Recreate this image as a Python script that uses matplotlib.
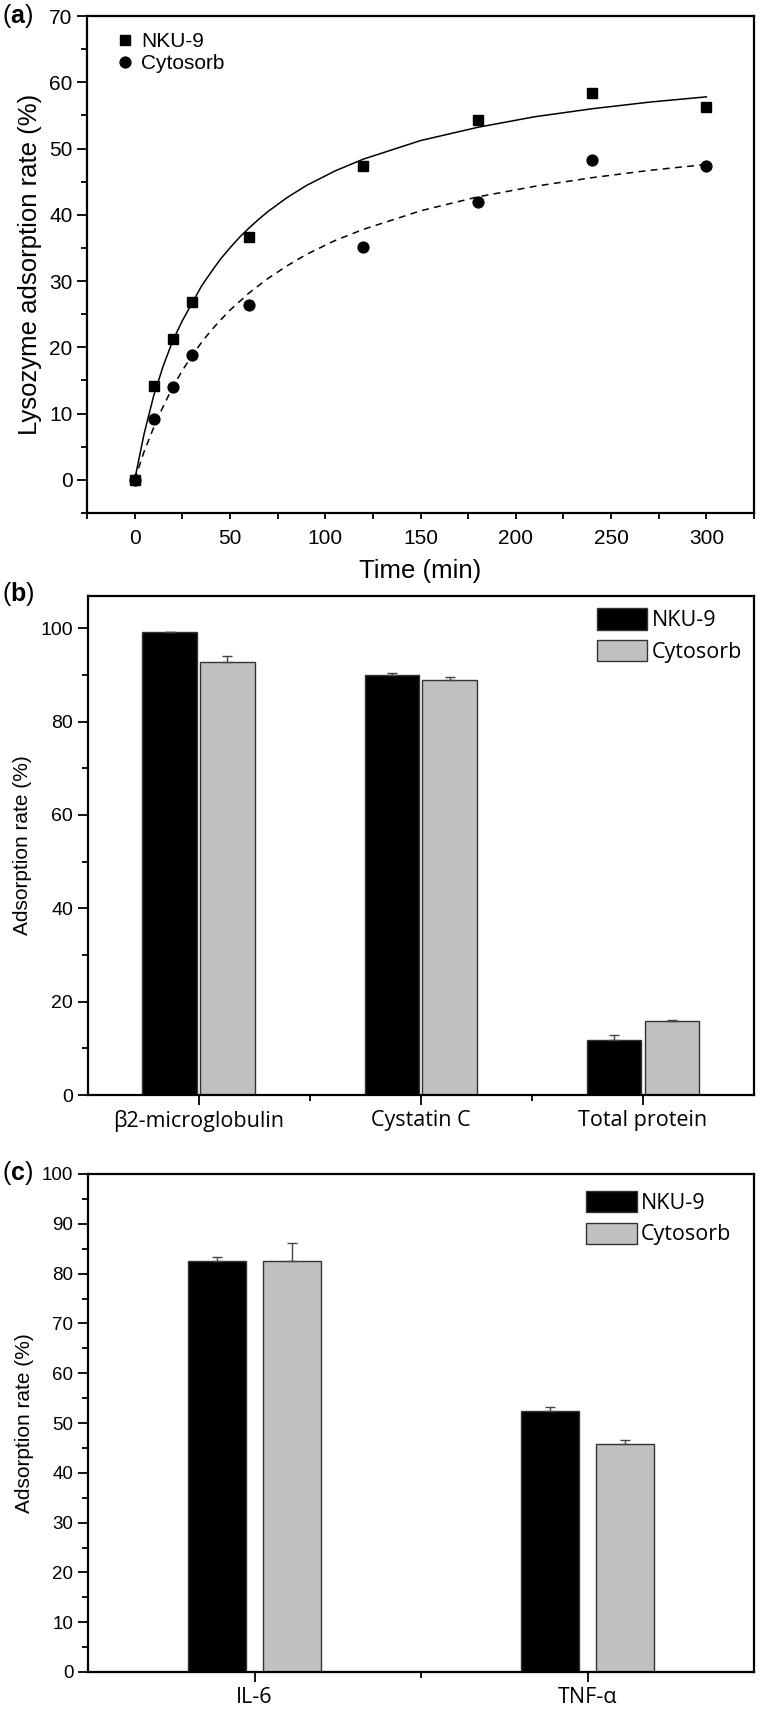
import numpy as np
import matplotlib
matplotlib.use('Agg')
import matplotlib.pyplot as plt
from matplotlib.ticker import MultipleLocator

plt.rcParams['font.family'] = ['Liberation Sans', 'DejaVu Sans']
plt.rcParams['mathtext.fontset'] = 'custom'
plt.rcParams['mathtext.rm'] = 'Liberation Sans'
plt.rcParams['mathtext.bf'] = 'Liberation Sans:bold'

# ---- panel (a): lysozyme adsorption kinetics
time_pts = [0, 10, 20, 30, 60, 120, 180, 240, 300]
nku_lys = [0, 14.2, 21.3, 26.8, 36.6, 47.4, 54.3, 58.4, 56.3]
cyto_lys = [0, 9.2, 14.0, 18.8, 26.4, 35.1, 42.0, 48.2, 47.3]

# fitted curves
fit_t = [0, 5, 10, 15, 20, 25, 30, 35, 40, 45, 50, 55, 60, 65, 70, 80, 90, 105, 120,
         150, 180, 210, 240, 270, 300]
nku_fit = [0, 7.0, 12.7, 17.2, 21.0, 24.0, 26.6, 29.2, 31.3, 33.3, 35.0, 36.6, 38.0,
           39.3, 40.5, 42.6, 44.4, 46.6, 48.4, 51.2, 53.2, 54.8, 56.0, 57.0, 57.8]
cyto_fit = [0, 4.3, 7.9, 11.1, 14.0, 16.5, 18.7, 20.7, 22.5, 24.1, 25.6, 26.9, 28.2,
            29.3, 30.4, 32.3, 34.0, 36.1, 37.8, 40.6, 42.7, 44.3, 45.6, 46.7, 47.6]

# ---- panel (b): middle molecules
b_cats = ['\u03b22-microglobulin', 'Cystatin C', 'Total protein']
b_nku = [99.1, 90.0, 11.8]
b_nku_err = [0.1, 0.4, 1.1]
b_cyto = [92.8, 88.9, 15.9]
b_cyto_err = [1.2, 0.7, 0.1]

# ---- panel (c): cytokines
c_cats = ['IL-6', 'TNF-\u03b1']
c_nku = [82.5, 52.4]
c_nku_err = [0.8, 0.9]
c_cyto = [82.6, 45.8]
c_cyto_err = [3.5, 0.7]

names = ['NKU-9', 'Cytosorb']
bar_cols = ['black', '#c0c0c0']
edge_col = '#333333'
cat_font = ['Open Sans', 'DejaVu Sans']

fig = plt.figure(figsize=(7.6, 17.11), dpi=100)
W, H = 760., 1711.

def add_ax(left, top, right, bottom):
    return fig.add_axes([left / W, 1 - bottom / H, (right - left) / W, (bottom - top) / H])

def style_spines(ax):
    for s in ax.spines.values():
        s.set_linewidth(1.6)

# panel a
ax = add_ax(87, 16, 754, 513)
style_spines(ax)
ax.plot(fit_t, nku_fit, '-', color='black', lw=1.1)
ax.plot(fit_t, cyto_fit, color='black', lw=1.1, ls=(0, (4.5, 3.5)))
ax.plot(time_pts, nku_lys, 's', color='black', ms=7.2, label=names[0])
ax.plot(time_pts, cyto_lys, 'o', color='black', ms=7.8, label=names[1])
ax.set_xlim(-25, 325)
ax.set_ylim(-5, 70)
ax.xaxis.set_major_locator(MultipleLocator(50))
ax.xaxis.set_minor_locator(MultipleLocator(25))
ax.yaxis.set_major_locator(MultipleLocator(10))
ax.yaxis.set_minor_locator(MultipleLocator(5))
ax.tick_params(which='both', direction='out', width=1.3, labelsize=15)
ax.tick_params(axis='x', which='both', length=4.5, pad=7)
ax.tick_params(axis='y', which='major', length=7)
ax.tick_params(axis='y', which='minor', length=4)
ax.set_xlabel('Time (min)', fontsize=18.5, labelpad=8)
ax.set_ylabel('Lysozyme adsorption rate (%)', fontsize=18.5, labelpad=5)
ax.legend(loc='upper left', bbox_to_anchor=(0.045, 0.968), frameon=False, fontsize=15,
          handlelength=0.8, handletextpad=0.35, labelspacing=0.15, borderpad=0,
          borderaxespad=0, numpoints=1)
fig.text(2 / W, 1 - 16 / H, r'($\mathbf{a}$)', fontsize=18, va='center', ha='left')


def bar_panel(ax, cats, nku, nku_err, cyto, cyto_err, width, off, ylim, major, minor,
              leg_xy, tick_size):
    style_spines(ax)
    x = np.arange(1, len(cats) + 1)
    for vals, errs, sgn, col, nm in [(nku, nku_err, -1, bar_cols[0], names[0]),
                                     (cyto, cyto_err, 1, bar_cols[1], names[1])]:
        xs = x + sgn * off
        ax.bar(xs, vals, width, color=col, edgecolor=edge_col, linewidth=1.0,
               label=nm, zorder=2)
        ax.errorbar(xs, vals, yerr=[np.zeros(len(vals)), errs], fmt='none',
                    ecolor='#444444', elinewidth=1.0, capsize=3.4, capthick=1.0, zorder=3)
    ax.set_xlim(0.5, len(cats) + 0.5)
    ax.set_ylim(*ylim)
    ax.set_xticks(x)
    ax.set_xticks(x[:-1] + 0.5, minor=True)
    ax.set_xticklabels(cats, fontsize=15.5, family=cat_font)
    ax.yaxis.set_major_locator(MultipleLocator(major))
    ax.yaxis.set_minor_locator(MultipleLocator(minor))
    ax.tick_params(which='both', direction='out', width=1.3)
    ax.tick_params(axis='y', labelsize=tick_size)
    ax.tick_params(which='major', length=7)
    ax.tick_params(which='minor', length=4)
    ax.tick_params(axis='x', which='major', pad=4)
    ax.set_ylabel('Adsorption rate (%)', fontsize=15, labelpad=6)
    ax.legend(loc='upper left', bbox_to_anchor=leg_xy, frameon=False,
              prop={'family': cat_font, 'size': 15.5}, handlelength=2.35,
              handleheight=1.15, handletextpad=0.2, labelspacing=0.4,
              borderpad=0, borderaxespad=0)


# panel b
axb = add_ax(87.5, 596, 754, 1095)
bar_panel(axb, b_cats, b_nku, b_nku_err, b_cyto, b_cyto_err, 0.245, 0.13,
          (0, 106.9), 20, 10, (0.764, 0.975), 14)
fig.text(2 / W, 1 - 594 / H, r'($\mathbf{b}$)', fontsize=18, va='center', ha='left')

# panel c
axc = add_ax(88, 1174, 754, 1672)
bar_panel(axc, c_cats, c_nku, c_nku_err, c_cyto, c_cyto_err, 0.176, 0.113,
          (0, 100), 10, 5, (0.748, 0.966), 13.5)
fig.text(2 / W, 1 - 1173 / H, r'($\mathbf{c}$)', fontsize=18, va='center', ha='left')

fig.savefig('out.png', dpi=100, facecolor='white')
